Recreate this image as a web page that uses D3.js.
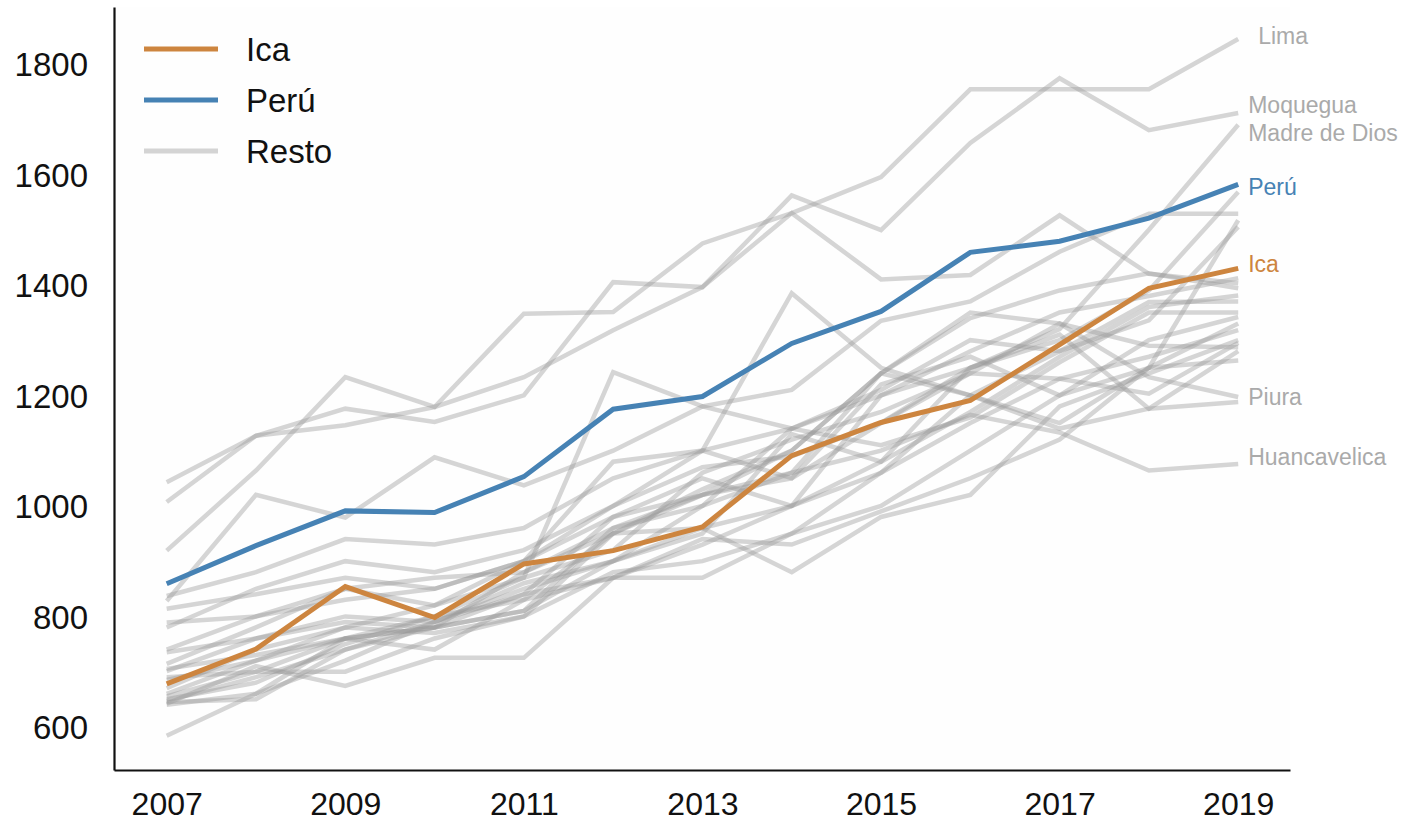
<!DOCTYPE html>
<html><head><meta charset="utf-8">
<script src="https://cdn.jsdelivr.net/npm/d3@7"></script>
<style>
html,body{margin:0;padding:0;background:#fff;}
text{font-family:"Liberation Sans",Arial,sans-serif;}
</style></head>
<body>
<svg id="chart" width="1407" height="824"></svg>
<script>
const years = [2007,2008,2009,2010,2011,2012,2013,2014,2015,2016,2017,2018,2019];
const yTicks = [600,800,1000,1200,1400,1600,1800];
const xTicks = [2007,2009,2011,2013,2015,2017,2019];

const icaValues  = [678,741,854,798,895,919,962,1091,1151,1191,1292,1394,1430];
const peruValues = [859,928,991,988,1053,1175,1198,1294,1352,1459,1479,1521,1582];

const restoNames = ["Lima","Moquegua","Arequipa","Tacna","Madre de Dios","R6","R7","Piura","Huancavelica",
  "R10","R11","R12","R13","R14","R15","R16","R17","R18","R19","R20","R21","R22","R23","R24"];
const restoValues = [
  [919,1064,1233,1179,1348,1351,1475,1530,1595,1754,1754,1754,1845],
  [1043,1127,1176,1152,1200,1405,1396,1562,1499,1657,1774,1680,1711],
  [1007,1127,1146,1179,1233,1318,1396,1530,1410,1418,1526,1420,1403],
  [828,1020,979,1088,1037,1100,1180,1210,1335,1370,1460,1529,1529],
  [837,880,940,930,960,1050,1100,1140,1200,1250,1320,1500,1690],
  [740,800,830,850,900,980,1020,1050,1150,1250,1300,1390,1568],
  [780,850,900,880,920,1000,1100,1385,1250,1200,1150,1250,1517],
  [814,840,870,850,900,1000,1070,1090,1150,1240,1330,1233,1197],
  [690,700,760,800,830,950,1020,1060,1100,1165,1133,1064,1076],
  [789,800,850,820,870,1242,1180,1140,1210,1300,1280,1336,1505],
  [735,760,800,790,860,900,960,1000,1200,1280,1350,1380,1412],
  [714,780,850,870,880,950,1030,1100,1240,1340,1390,1421,1394],
  [705,730,760,780,810,900,950,1130,1080,1170,1270,1360,1381],
  [701,760,790,780,840,980,1050,1000,1060,1200,1280,1369,1370],
  [685,720,780,820,900,1080,1100,1050,1220,1270,1200,1300,1342],
  [670,740,780,770,800,880,900,950,1000,1100,1200,1250,1330],
  [660,720,760,740,830,870,870,950,1060,1150,1230,1270,1318],
  [655,700,700,760,800,950,960,880,980,1020,1180,1240,1300],
  [650,680,750,800,870,920,1060,1120,1170,1240,1230,1203,1295],
  [647,690,740,780,880,960,1020,1100,1240,1350,1330,1290,1287],
  [645,650,740,790,840,870,930,1000,1080,1250,1310,1176,1280],
  [642,710,674,725,725,870,940,930,990,1050,1120,1250,1263],
  [640,660,760,780,810,960,1000,1060,1240,1200,1140,1176,1188],
  [584,660,720,790,850,900,1000,1140,1110,1160,1260,1350,1350]
];
const labeledResto = ["Lima","Moquegua","Madre de Dios","Piura","Huancavelica"];
const legendLabels = ["Ica","Perú","Resto"];

const ICA = "#cd853f", PERU = "#4682b4", GREY = "#999999";

const svg = d3.select("#chart");
const x = d3.scaleLinear().domain([2006.41, 2019.58]).range([114, 1290]);
const y = d3.scaleLinear().domain([522, 1903]).range([770, 7]);

svg.append("rect").attr("x",114).attr("y",7).attr("width",1290-114).attr("height",770-7).attr("fill","#fefefe");

const line = d3.line().x((d,i)=>x(years[i])).y(d=>y(d));

svg.append("g").selectAll("path").data(restoValues).join("path")
  .attr("d", line).attr("fill","none").attr("stroke",GREY)
  .attr("stroke-opacity",0.4).attr("stroke-width",4.5).attr("stroke-linejoin","miter");

svg.append("path").attr("d", line(peruValues)).attr("fill","none").attr("stroke",PERU).attr("stroke-width",5);
svg.append("path").attr("d", line(icaValues)).attr("fill","none").attr("stroke",ICA).attr("stroke-width",5);

// axes
const yAxis = d3.axisLeft(y).tickValues(yTicks).tickFormat(d3.format("d")).tickSize(0).tickPadding(26);
const xAxis = d3.axisBottom(x).tickValues(xTicks).tickFormat(d3.format("d")).tickSize(0).tickPadding(22);
const gy = svg.append("g").attr("transform","translate(114,0)").call(yAxis);
const gx = svg.append("g").attr("transform","translate(0,770)").call(xAxis);
[gy,gx].forEach(g=>{
  g.select(".domain").attr("stroke","#111").attr("stroke-width",2.2);
  g.selectAll("text").attr("font-size",32).attr("fill","#111").attr("font-family","Liberation Sans, Arial, sans-serif");
});
gy.selectAll("text").attr("font-size",33).attr("dy","0.36em");
gx.selectAll("text").attr("dy","0.72em");

// end labels
const labelShift = {"Lima":-3,"Moquegua":-8,"Madre de Dios":8,"Piura":0,"Huancavelica":-7,"Perú":3,"Ica":-4};
const lastI = years.length-1;
const endLabels = labeledResto.map(n=>({name:n, v:restoValues[restoNames.indexOf(n)][lastI], c:"#aaaaaa", dx: n==="Lima"?20:10}))
  .concat([{name:"Perú", v:peruValues[lastI], c:PERU, dx:10},{name:"Ica", v:icaValues[lastI], c:ICA, dx:10}]);
svg.append("g").selectAll("text").data(endLabels).join("text")
  .attr("x", d=>x(2019)+d.dx).attr("y", d=>y(d.v)+labelShift[d.name])
  .attr("dy","0.35em").attr("font-size",23).attr("fill",d=>d.c).text(d=>d.name);

// legend
const legColors = [ICA, PERU, "#d4d4d4"];
const leg = svg.append("g");
legendLabels.forEach((t,i)=>{
  const yy = 49 + i*51;
  leg.append("line").attr("x1",144).attr("x2",218).attr("y1",yy).attr("y2",yy)
    .attr("stroke",legColors[i]).attr("stroke-width",5);
  leg.append("text").attr("x",246).attr("y",yy).attr("dy","0.36em").attr("font-size",33).attr("fill","#111").text(t);
});
</script>
</body></html>
